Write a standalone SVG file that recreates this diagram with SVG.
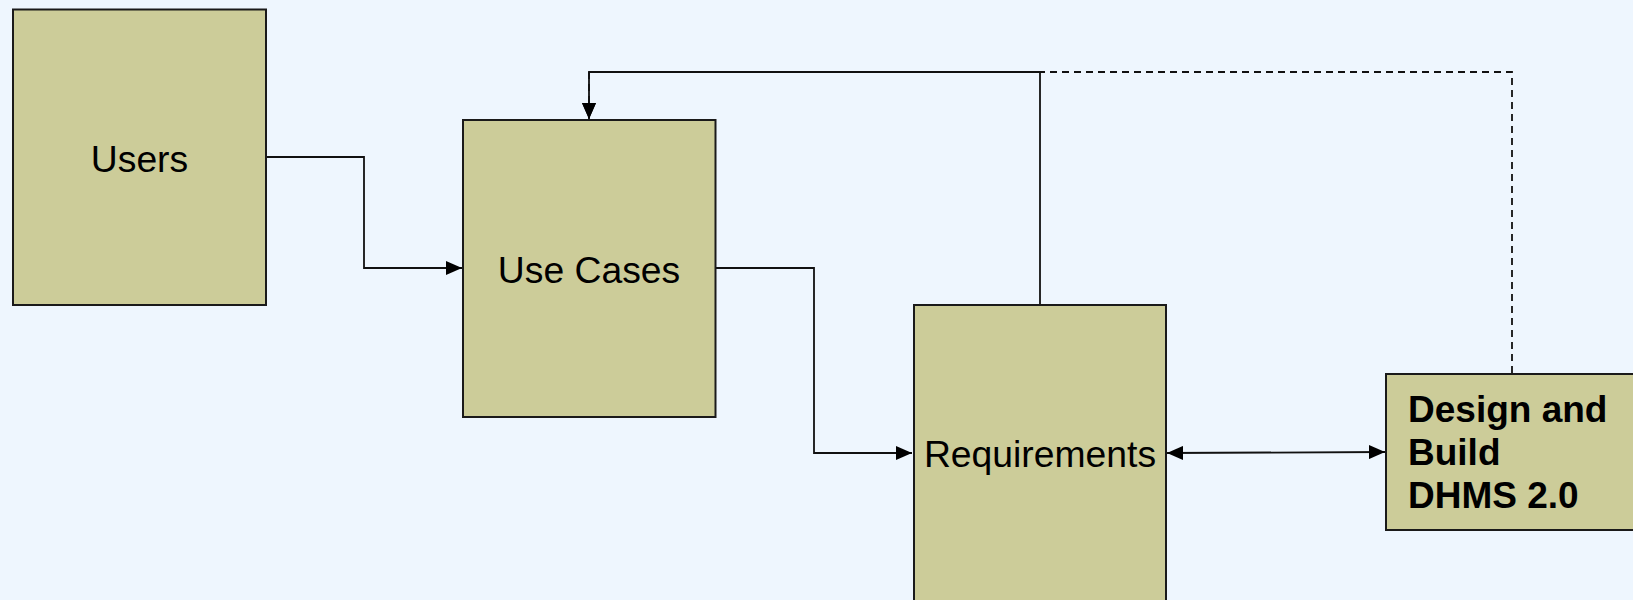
<svg xmlns="http://www.w3.org/2000/svg" width="1633" height="600" viewBox="0 0 1633 600">
  <style>
    .box { fill: #CCCC99; stroke: #1a1a1a; stroke-width: 2; }
    .label { font-family: "Liberation Sans", Arial, sans-serif; font-size: 37.3px; fill: #000; }
    .bold { font-weight: bold; font-size: 37px; }
    .wire { fill: none; stroke: #111; stroke-width: 1.8; }
    .dash { stroke-dasharray: 7 5; }
  </style>
  <defs>
    <marker id="arrowEnd" viewBox="0 0 16 14" refX="16" refY="7" markerWidth="16" markerHeight="14" markerUnits="userSpaceOnUse" orient="auto">
      <path d="M0,0 L16,7 L0,14 Z" fill="#000"/>
    </marker>
    <marker id="arrowStart" viewBox="0 0 16 14" refX="0" refY="7" markerWidth="16" markerHeight="14" markerUnits="userSpaceOnUse" orient="auto">
      <path d="M16,0 L0,7 L16,14 Z" fill="#000"/>
    </marker>
  </defs>

  <rect width="1633" height="600" fill="#EEF6FE"/>

  <g id="connectors">
    <!-- Users to Use Cases -->
    <path class="wire" d="M266,157 H364 V268 H462" marker-end="url(#arrowEnd)"/>
    <!-- Use Cases to Requirements -->
    <path class="wire" d="M716,268 H814 V453 H912" marker-end="url(#arrowEnd)"/>
    <!-- Requirements back up to Use Cases -->
    <path class="wire" d="M1040,304 V72 H589 V119" marker-end="url(#arrowEnd)"/>
    <!-- Design and Build back to Use Cases (dashed) -->
    <path class="wire dash" d="M1512,373 V72 H589 V119" marker-end="url(#arrowEnd)"/>
    <!-- Requirements <-> Design and Build -->
    <path class="wire" d="M1167,453 L1385,452" marker-start="url(#arrowStart)" marker-end="url(#arrowEnd)"/>
  </g>

  <g id="users">
    <rect class="box" x="13" y="9.5" width="253" height="295.5"/>
    <text class="label" x="139.5" y="172" text-anchor="middle">Users</text>
  </g>

  <g id="use-cases">
    <rect class="box" x="463" y="120" width="252.5" height="297"/>
    <text class="label" x="589" y="283" text-anchor="middle">Use Cases</text>
  </g>

  <g id="requirements">
    <rect class="box" x="914" y="305" width="252" height="310"/>
    <text class="label" x="1040" y="467" text-anchor="middle">Requirements</text>
  </g>

  <g id="design-build">
    <rect class="box" x="1386" y="374" width="260" height="156"/>
    <text class="label bold" x="1408" y="422">Design and</text>
    <text class="label bold" x="1408" y="465">Build</text>
    <text class="label bold" x="1408" y="508">DHMS 2.0</text>
  </g>
</svg>
